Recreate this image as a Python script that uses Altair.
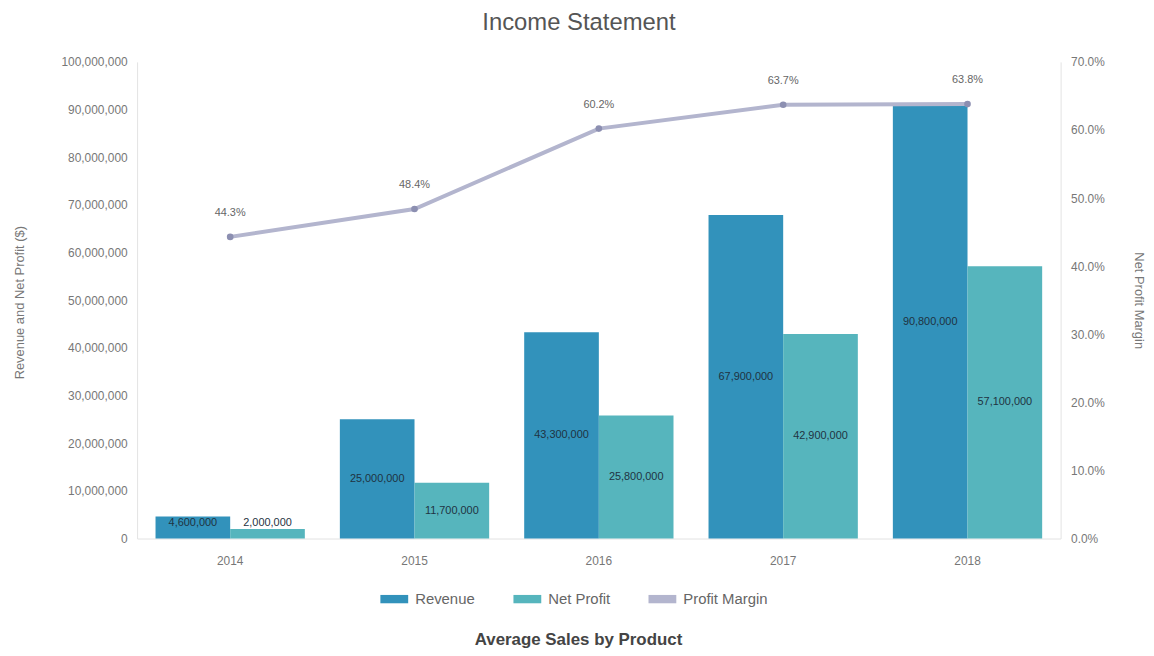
import altair as alt
import pandas as pd

years = ["2014", "2015", "2016", "2017", "2018"]
revenue = [4600000, 25000000, 43300000, 67900000, 90800000]
net_profit = [2000000, 11700000, 25800000, 42900000, 57100000]
margin = [0.443, 0.484, 0.602, 0.637, 0.638]
series_names = ["Revenue", "Net Profit", "Profit Margin"]
series_colors = ["#3292bb", "#56b5bd", "#b3b5ce"]

bars_df = pd.DataFrame({
    "year": years * 2,
    "series": [series_names[0]] * len(years) + [series_names[1]] * len(years),
    "value": revenue + net_profit,
})
line_df = pd.DataFrame({"year": years, "series": series_names[2], "margin": margin})

FONT = "Liberation Sans"
color_scale = alt.Scale(domain=series_names, range=series_colors)

x_enc = alt.X(
    "year:N",
    sort=years,
    scale=alt.Scale(paddingInner=0.19, paddingOuter=0.1),
    axis=alt.Axis(
        title="Average Sales by Product", labelAngle=0, ticks=False,
        domainColor="#e3e3e3", labelColor="#777", labelFontSize=12, labelPadding=17,
        titleX=444, titleAlign="center", titleY=102, titleBaseline="middle",
        titleFontSize=17, titleFontWeight="bold", titleColor="#444",
    ),
)
xoff = alt.XOffset("series:N", sort=series_names[:2])

left_axis = alt.Axis(
    title="Revenue and Net Profit ($)", format=",.0f", tickCount=10, grid=False, ticks=False,
    domainColor="#e3e3e3", labelColor="#777", labelFontSize=12, labelPadding=10,
    titleX=-118, titleY=242, titleAlign="center", titleBaseline="middle",
    titleFontSize=13, titleFontWeight="normal", titleColor="#777",
)
left_scale = alt.Scale(domain=[0, 100000000])

bars = alt.Chart(bars_df).mark_bar().encode(
    x=x_enc,
    xOffset=xoff,
    y=alt.Y("value:Q", scale=left_scale, axis=left_axis),
    color=alt.Color(
        "series:N", scale=color_scale, sort=series_names,
        legend=alt.Legend(
            title=None, orient="none", legendX=245, legendY=527, direction="horizontal",
            symbolType="M-1,-0.3L1,-0.3L1,0.3L-1,0.3Z", symbolSize=784,
            symbolStrokeWidth=0, labelFontSize=15, labelColor="#666", columnPadding=38,
            labelOffset=7,
        ),
    ),
)

bar_text = alt.Chart(bars_df).transform_calculate(
    pos="max(datum.value / 2, 3200000)"
).mark_text(fontSize=11, color="#1f3342", font=FONT).encode(
    x=alt.X("year:N", sort=years),
    xOffset=xoff,
    y=alt.Y("pos:Q", scale=left_scale, axis=left_axis),
    text=alt.Text("value:Q", format=",.0f"),
)

y_right = alt.Y(
    "margin:Q",
    scale=alt.Scale(domain=[0, 0.7]),
    axis=alt.Axis(
        orient="right", title="Net Profit Margin", format=".1%", tickCount=7, grid=False,
        ticks=False, domainColor="#e3e3e3", labelColor="#777", labelFontSize=12,
        labelPadding=10, titleX=78, titleY=240, titleAlign="center", titleBaseline="middle",
        titleFontSize=13, titleFontWeight="normal", titleColor="#777",
    ),
)

line = alt.Chart(line_df).mark_line(strokeWidth=4).encode(
    x=alt.X("year:N", sort=years),
    y=y_right,
    color=alt.Color("series:N", scale=color_scale, sort=series_names),
)
points = alt.Chart(line_df).mark_point(filled=True, size=45, color="#8c8fb1", opacity=1).encode(
    x=alt.X("year:N", sort=years),
    y=alt.Y("margin:Q"),
)
line_text = alt.Chart(line_df).mark_text(dy=-24, fontSize=11, color="#666", font=FONT).encode(
    x=alt.X("year:N", sort=years),
    y=alt.Y("margin:Q"),
    text=alt.Text("margin:Q", format=".1%"),
)

left = alt.layer(bars, bar_text)
right = alt.layer(line, points, line_text)

chart = alt.layer(left, right).resolve_scale(y="independent").properties(
    width=930,
    height=480,
    padding={"left": 130, "top": 52, "right": 86, "bottom": 112},
    autosize=alt.AutoSizeParams(type="none"),
    title=alt.TitleParams(
        "Income Statement", fontSize=24, fontWeight="normal", color="#555",
        anchor="middle", frame="bounds", offset=21, font=FONT,
    ),
).configure(font=FONT).configure_view(stroke=None)

chart.save("out.html", embed_options={"renderer": "svg", "actions": False})
